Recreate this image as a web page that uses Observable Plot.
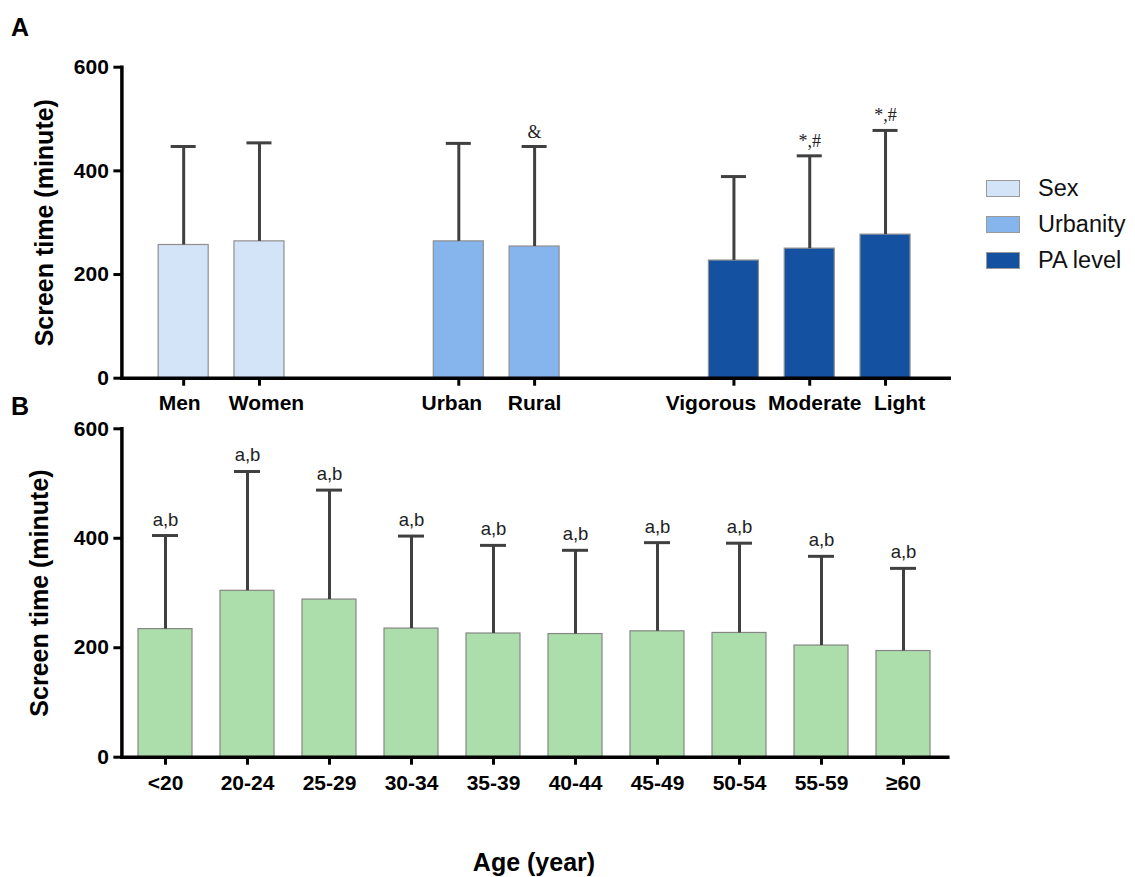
<!DOCTYPE html>
<html>
<head>
<meta charset="utf-8">
<script src="https://cdn.jsdelivr.net/npm/d3@7"></script>
<script src="https://cdn.jsdelivr.net/npm/@observablehq/plot@0.6"></script>
<style>
  html, body { margin: 0; padding: 0; background: #fff; }
  #wrap { position: relative; width: 1135px; height: 877px; font-family: "Liberation Sans", Arial, sans-serif; }
  .panel { position: absolute; left: 0; }
  .plabel { position: absolute; font-weight: bold; font-size: 25px; color: #000; }
  #legend { position: absolute; left: 986px; top: 171px; }
  .li { display: flex; align-items: center; height: 35.8px; }
  .sw { width: 32px; height: 15px; border: 1.2px solid #9a9a9a; margin-right: 18px; }
  .lt { font-size: 23.5px; color: #111; }
  #xtitle { position: absolute; left: 0; width: 1068px; top: 848px; text-align: center; font-weight: bold; font-size: 25px; }
</style>
</head>
<body>
<div id="wrap">
  <div class="plabel" style="left:11px; top:13px;">A</div>
  <div class="plabel" style="left:11px; top:392px;">B</div>
  <div id="panelA" class="panel" style="top:0px;"></div>
  <div id="panelB" class="panel" style="top:405px;"></div>
  <div id="legend"></div>
  <div id="xtitle">Age (year)</div>
</div>
<script>
// ---- Panel A data ----
const groups = ["Sex", "Urbanity", "PA level"];
const groupColors = ["#d3e3f8", "#86b5ed", "#1451a0"];
const categoriesA = ["Men", "Women", "Urban", "Rural", "Vigorous", "Moderate", "Light"];
const groupOfA = ["Sex", "Sex", "Urbanity", "Urbanity", "PA level", "PA level", "PA level"];
const meansA = [257, 264, 264, 254, 227, 250, 277];
const upperA = [447, 454, 453, 447, 389, 429, 478];
const notesA = ["", "", "", "&", "", "*,#", "*,#"];

// ---- Panel B data ----
const ageGroups = ["<20", "20-24", "25-29", "30-34", "35-39", "40-44", "45-49", "50-54", "55-59", "\u226560"];
const meansB = [234, 304, 288, 235, 226, 225, 230, 227, 204, 194];
const upperB = [405, 522, 488, 404, 387, 378, 392, 391, 367, 345];
const notesB = ["a,b", "a,b", "a,b", "a,b", "a,b", "a,b", "a,b", "a,b", "a,b", "a,b"];

const yTicks = [0, 200, 400, 600];
const yTitle = "Screen time (minute)";

// layout constants (not data)
const groupGap = 1.63;     // extra spacing between groups, in bar steps
const halfBar = 0.33;
const halfCap = 0.165;
const labelShift = {Men: -4, Women: 7, Urban: -7, Rural: 0, Vigorous: -23, Moderate: 5, Light: 14};

const FONT = "Liberation Sans, Arial, sans-serif";
const errColor = "#404040";

const dataA = categoriesA.map((name, i) => ({
  name,
  group: groupOfA[i],
  pos: i + groups.indexOf(groupOfA[i]) * groupGap,
  mean: meansA[i],
  upper: upperA[i],
  note: notesA[i]
}));
const colorOf = g => groupColors[groups.indexOf(g)];

const axisTextA = dataA.map(d => Plot.axisX({
  ticks: [d.pos], tickSize: 0, tickPadding: 17, dx: labelShift[d.name], label: null,
  tickFormat: () => d.name, fontSize: 21, fontWeight: "bold", fill: "#000"
}));

const plotA = Plot.plot({
  width: 960, height: 420,
  marginLeft: 121.4, marginRight: 11.3, marginTop: 66.7, marginBottom: 42.3,
  style: {fontFamily: FONT, background: "transparent", overflow: "visible", color: "#000"},
  x: {type: "linear", domain: [-0.815, 10.1], axis: null},
  y: {domain: [0, 600], axis: null},
  marks: [
    Plot.rectY(dataA, {x1: d => d.pos - halfBar, x2: d => d.pos + halfBar, y1: 0, y2: "mean",
      fill: d => colorOf(d.group), stroke: "#8f8f8f", strokeWidth: 1.2}),
    Plot.ruleX(dataA, {x: "pos", y1: "mean", y2: "upper", stroke: errColor, strokeWidth: 3}),
    Plot.ruleY(dataA, {y: "upper", x1: d => d.pos - halfCap, x2: d => d.pos + halfCap, stroke: errColor, strokeWidth: 3}),
    Plot.text(dataA.filter(d => d.note), {x: "pos", y: "upper", text: "note", lineAnchor: "bottom",
      dy: -9, fontFamily: "Liberation Serif, Times New Roman, serif", fontSize: 18, fill: "#222"}),
    Plot.frame({anchor: "left", stroke: "#000", strokeWidth: 3.5}),
    Plot.frame({anchor: "bottom", stroke: "#000", strokeWidth: 3.5}),
    Plot.axisY({ticks: yTicks, tickSize: 8, tickPadding: 5, strokeWidth: 3, fontSize: 21, fontWeight: "bold", label: null, fill: "#000"}),
    Plot.axisX({ticks: dataA.map(d => d.pos), tickSize: 8, strokeWidth: 3, tickFormat: () => "", label: null}),
    ...axisTextA,
    Plot.text([yTitle], {text: d => d, frameAnchor: "left", textAnchor: "middle", rotate: -90, dx: -77, fontSize: 25, fontWeight: "bold", fill: "#000"})
  ]
});
document.getElementById("panelA").appendChild(plotA);

// ---- Panel B ----
const dataB = ageGroups.map((age, i) => ({age, mean: meansB[i], upper: upperB[i], note: notesB[i]}));

const plotB = Plot.plot({
  width: 960, height: 400,
  marginLeft: 121.4, marginRight: 12.7, marginTop: 23.3, marginBottom: 48.3,
  style: {fontFamily: FONT, background: "transparent", overflow: "visible", color: "#000"},
  x: {type: "band", domain: ageGroups, paddingInner: 0.34, paddingOuter: 0.17, axis: null},
  y: {domain: [0, 600], axis: null},
  marks: [
    Plot.barY(dataB, {x: "age", y: "mean", fill: "#acdeab", stroke: "#858585", strokeWidth: 1.2}),
    Plot.ruleX(dataB, {x: "age", y1: "mean", y2: "upper", stroke: errColor, strokeWidth: 3}),
    Plot.tickY(dataB, {x: "age", y: "upper", stroke: errColor, strokeWidth: 3, insetLeft: 14, insetRight: 14}),
    Plot.text(dataB, {x: "age", y: "upper", text: "note", lineAnchor: "bottom", dy: -10, fontSize: 18.5, fill: "#222"}),
    Plot.frame({anchor: "left", stroke: "#000", strokeWidth: 3.5}),
    Plot.frame({anchor: "bottom", stroke: "#000", strokeWidth: 3.5}),
    Plot.axisY({ticks: yTicks, tickSize: 8, tickPadding: 5, strokeWidth: 3, fontSize: 21, fontWeight: "bold", label: null, fill: "#000"}),
    Plot.axisX({tickSize: 8, tickPadding: 10, strokeWidth: 3, fontSize: 21, fontWeight: "bold", label: null, fill: "#000"}),
    Plot.text([yTitle], {text: d => d, frameAnchor: "left", textAnchor: "middle", rotate: -90, dx: -82, fontSize: 25, fontWeight: "bold", fill: "#000"})
  ]
});
document.getElementById("panelB").appendChild(plotB);

// ---- Legend ----
const legend = document.getElementById("legend");
groups.forEach((g, i) => {
  const row = document.createElement("div");
  row.className = "li";
  const sw = document.createElement("div");
  sw.className = "sw";
  sw.style.background = groupColors[i];
  const t = document.createElement("span");
  t.className = "lt";
  t.textContent = g;
  row.appendChild(sw); row.appendChild(t);
  legend.appendChild(row);
});
</script>
</body>
</html>
